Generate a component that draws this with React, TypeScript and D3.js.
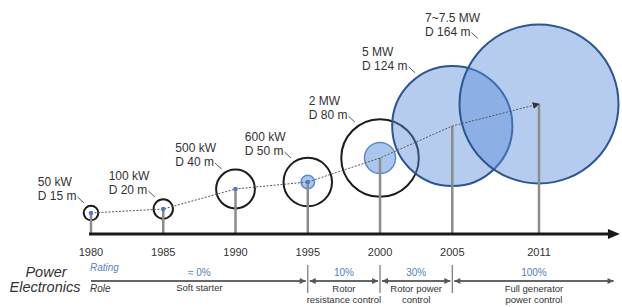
import { useEffect, useRef } from "react";
import * as d3 from "d3";

// Turbine generations
const YEARS = [1980, 1985, 1990, 1995, 2000, 2005, 2011];
const POWER = ["50 kW", "100 kW", "500 kW", "600 kW", "2 MW", "5 MW", "7~7.5 MW"];
const DIAMETER = [15, 20, 40, 50, 80, 124, 164];
// height of the hub marker above the time axis (arbitrary units)
const LEVEL = [21, 25, 45, 52, 76, 108, 130];
// share of rated power handled by power electronics
const PE_SHARE = [0, 0, 0, 0.1, 0.3, 1, 1];
// diameter of the inner converter disc, same unit as rotor diameter
const INNER_D = [0, 0, 0, 14, 32, 0, 0];

// Power electronics eras along the bottom
const ERA_BOUNDS = [1980, 1995, 2000, 2005, 2016.3];
const ERA_RATING = ["≈ 0%", "10%", "30%", "100%"];
const ERA_ROLE = [
  ["Soft starter"],
  ["Rotor", "resistance control"],
  ["Rotor power", "control"],
  ["Full generator", "power control"],
];

const W = 622;
const H = 307;
const AXIS_Y = 234;
const FONT = "Arial, 'Liberation Sans', sans-serif";

const TEXT = "#333333";
const BLUE_TXT = "#4f7fc0";
const BLUE_FILL = "#5b8fdc";
const BLUE_STROKE = "#2d5590";

export default function App() {
  const svgRef = useRef<SVGSVGElement>(null);

  useEffect(() => {
    if (!svgRef.current) return;
    const svg = d3.select(svgRef.current);
    svg.selectAll("*").remove();

    const x = d3.scaleLinear().domain([1980, 2011]).range([91, 539]);
    const y = d3.scaleLinear().domain([0, 130]).range([AXIS_Y, 104]);
    const r = d3.scaleLinear().domain([0, 164]).range([0, 79.5]);

    const rows = YEARS.map((yr, i) => ({
      year: yr,
      power: POWER[i],
      d: DIAMETER[i],
      cx: x(yr),
      cy: y(LEVEL[i]),
      r: r(DIAMETER[i]),
      share: PE_SHARE[i],
      inner: r(INNER_D[i]),
    }));

    const defs = svg.append("defs");
    defs.append("marker")
      .attr("id", "traj")
      .attr("viewBox", "0 0 10 10")
      .attr("refX", 9).attr("refY", 5)
      .attr("markerWidth", 7).attr("markerHeight", 7)
      .attr("markerUnits", "userSpaceOnUse")
      .attr("orient", "auto")
      .append("path").attr("d", "M0,0 L10,5 L0,10 z").attr("fill", "#333");
    defs.append("marker")
      .attr("id", "era")
      .attr("viewBox", "0 0 10 10")
      .attr("refX", 10).attr("refY", 5)
      .attr("markerWidth", 7).attr("markerHeight", 6)
      .attr("markerUnits", "userSpaceOnUse")
      .attr("orient", "auto-start-reverse")
      .append("path").attr("d", "M0,0 L10,5 L0,10 z").attr("fill", "#555");

    // ── Rotor circles: outline-only generations ─────────────────────────
    rows.filter((d) => d.share < 1).forEach((d) => {
      svg.append("circle")
        .attr("cx", d.cx).attr("cy", d.cy).attr("r", d.r)
        .attr("fill", "none")
        .attr("stroke", "#1c1c1c")
        .attr("stroke-width", 2);
      if (d.inner > 0) {
        svg.append("circle")
          .attr("cx", d.cx).attr("cy", d.cy).attr("r", d.inner)
          .attr("fill", "#abc6ee")
          .attr("stroke", "#5f89c8")
          .attr("stroke-width", 1.5);
      }
    });

    // ── Full converter generations: translucent blue ────────────────────
    rows.filter((d) => d.share >= 1).forEach((d) => {
      svg.append("circle")
        .attr("cx", d.cx).attr("cy", d.cy).attr("r", d.r)
        .attr("fill", BLUE_FILL)
        .attr("fill-opacity", 0.45)
        .attr("stroke", BLUE_STROKE)
        .attr("stroke-width", 2);
    });

    // ── Stems ───────────────────────────────────────────────────────────
    rows.forEach((d) => {
      svg.append("line")
        .attr("x1", d.cx).attr("x2", d.cx)
        .attr("y1", d.cy).attr("y2", AXIS_Y)
        .attr("stroke", "#8c8c8c")
        .attr("stroke-width", 2.5);
    });

    // ── Dotted growth trajectory ────────────────────────────────────────
    const line = d3.line<(typeof rows)[number]>().x((d) => d.cx).y((d) => d.cy);
    svg.append("path")
      .attr("d", line(rows))
      .attr("fill", "none")
      .attr("stroke", "#555")
      .attr("stroke-width", 1)
      .attr("stroke-dasharray", "2,1.5")
      .attr("marker-end", "url(#traj)");

    rows.filter((d) => d.share < 0.3).forEach((d) => {
      svg.append("circle")
        .attr("cx", d.cx).attr("cy", d.cy).attr("r", 2.3)
        .attr("fill", "#4b7dc0");
    });

    // ── Time axis ───────────────────────────────────────────────────────
    const axEnd = x(2016.6);
    svg.append("line")
      .attr("x1", x(1980) - 2).attr("x2", axEnd - 8)
      .attr("y1", AXIS_Y).attr("y2", AXIS_Y)
      .attr("stroke", "#1a1a1a")
      .attr("stroke-width", 3);
    svg.append("path")
      .attr("d", `M${axEnd},${AXIS_Y} L${axEnd - 12},${AXIS_Y - 5} L${axEnd - 12},${AXIS_Y + 5} z`)
      .attr("fill", "#1a1a1a");

    // ── Power / diameter labels with leaders ────────────────────────────
    rows.forEach((d) => {
      // biggest rotor's leader sits a little further round the circle
      const deg = d.r > 70 ? -133 : -125;
      const ang = (deg * Math.PI) / 180;
      const gap = d.r > 70 ? 10 : 5;
      const ex = d.cx + Math.cos(ang) * (d.r + gap);
      const ey = d.cy + Math.sin(ang) * (d.r + gap);
      const sx = ex - 6.5;
      const sy = ey - 6;
      svg.append("line")
        .attr("x1", sx).attr("y1", sy).attr("x2", ex).attr("y2", ey)
        .attr("stroke", "#555").attr("stroke-width", 1);
      const dText = svg.append("text")
        .attr("x", sx - 1).attr("y", sy + 3)
        .attr("text-anchor", "end")
        .attr("font-family", FONT).attr("font-size", 12)
        .attr("fill", TEXT)
        .text(`D ${d.d} m`);
      const wd = (dText.node() as SVGTextElement).getComputedTextLength();
      svg.append("text")
        .attr("x", sx - 1 - wd).attr("y", sy + 3 - 14)
        .attr("font-family", FONT).attr("font-size", 12)
        .attr("fill", TEXT)
        .text(d.power);
    });

    // ── Year labels ─────────────────────────────────────────────────────
    rows.forEach((d) => {
      svg.append("text")
        .attr("x", d.cx).attr("y", 256)
        .attr("text-anchor", "middle")
        .attr("font-family", FONT).attr("font-size", 11)
        .attr("fill", TEXT)
        .text(d.year);
    });

    // ── Power electronics band ──────────────────────────────────────────
    const PE_Y = 281;
    svg.append("text")
      .attr("x", 46).attr("y", 277)
      .attr("text-anchor", "middle")
      .attr("font-family", FONT).attr("font-size", 14.5).attr("font-style", "italic")
      .attr("fill", TEXT).text("Power");
    svg.append("text")
      .attr("x", 45).attr("y", 292)
      .attr("text-anchor", "middle")
      .attr("font-family", FONT).attr("font-size", 14.5).attr("font-style", "italic")
      .attr("fill", TEXT).text("Electronics");
    svg.append("text")
      .attr("x", x(1980) - 1).attr("y", 271)
      .attr("font-family", FONT).attr("font-size", 10).attr("font-style", "italic")
      .attr("fill", "#5a84c0").text("Rating");
    svg.append("text")
      .attr("x", x(1980) - 1).attr("y", 292)
      .attr("font-family", FONT).attr("font-size", 10).attr("font-style", "italic")
      .attr("fill", TEXT).text("Role");

    ERA_RATING.forEach((rating, i) => {
      const x0 = x(ERA_BOUNDS[i]);
      const x1 = x(ERA_BOUNDS[i + 1]);
      const gap = i === 0 ? 0 : 2;
      svg.append("line")
        .attr("x1", x0 + gap).attr("x2", x1 - 2)
        .attr("y1", PE_Y).attr("y2", PE_Y)
        .attr("stroke", "#666")
        .attr("stroke-width", 2.2)
        .attr("marker-end", "url(#era)")
        .attr("marker-start", i === 0 ? null : "url(#era)");
      if (i > 0) {
        svg.append("line")
          .attr("x1", x0).attr("x2", x0)
          .attr("y1", 265).attr("y2", 293)
          .attr("stroke", "#777").attr("stroke-width", 1.2);
      }
      const mid = (x0 + x1) / 2;
      svg.append("text")
        .attr("x", mid).attr("y", 276)
        .attr("text-anchor", "middle")
        .attr("font-family", FONT).attr("font-size", 10)
        .attr("fill", BLUE_TXT).text(rating);
      ERA_ROLE[i].forEach((ln, j) => {
        svg.append("text")
          .attr("x", mid).attr("y", (ERA_ROLE[i].length === 1 ? 291 : 292) + j * 11)
          .attr("text-anchor", "middle")
          .attr("font-family", FONT).attr("font-size", 9.5)
          .attr("fill", TEXT).text(ln);
      });
    });
  }, []);

  return (
    <div style={{ position: "absolute", left: 0, top: 0, background: "#fff" }}>
      <svg ref={svgRef} width={W} height={H} style={{ display: "block" }} />
    </div>
  );
}
